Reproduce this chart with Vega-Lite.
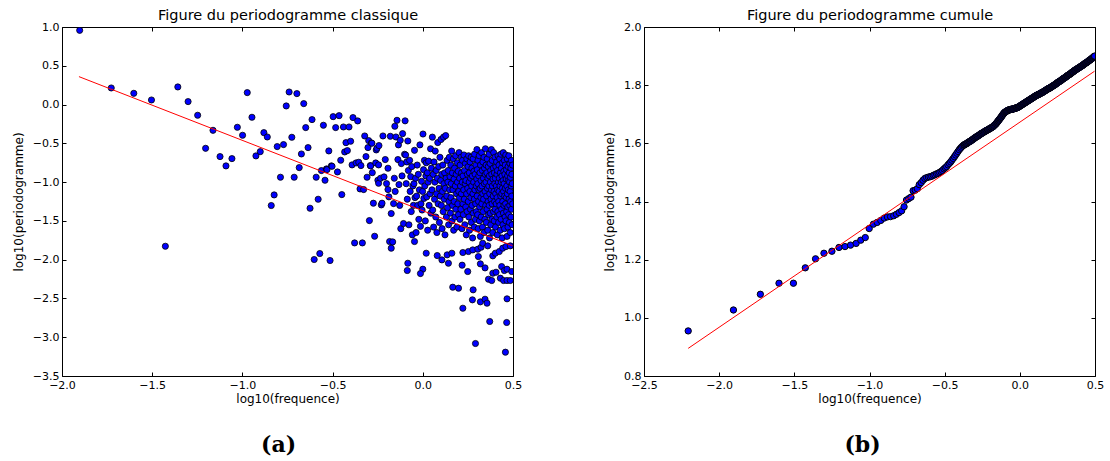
{
"$schema": "https://vega.github.io/schema/vega-lite/v6.json",
"padding": {"left": 11, "top": 7, "right": 5, "bottom": 0},
"spacing": 80,
"datasets": {
"a": [
{"x":-1.902,"y":0.957},{"x":-1.727,"y":0.214},{"x":-1.602,"y":0.145},{"x":-1.504,"y":0.059},{"x":-1.427,"y":-1.827},{"x":-1.358,"y":0.227},{"x":-1.301,"y":0.038},{"x":-1.248,"y":-0.138},{"x":-1.204,"y":-0.564},{"x":-1.163,"y":-0.332},
{"x":-1.124,"y":-0.671},{"x":-1.091,"y":-0.791},{"x":-1.058,"y":-0.697},{"x":-1.028,"y":-0.293},{"x":-0.999,"y":-0.396},{"x":-0.973,"y":0.154},{"x":-0.947,"y":-0.164},{"x":-0.925,"y":-0.662},{"x":-0.901,"y":-0.607},{"x":-0.881,"y":-0.362},
{"x":-0.862,"y":-0.418},{"x":-0.840,"y":-1.302},{"x":-0.824,"y":-1.165},{"x":-0.807,"y":-0.542},{"x":-0.789,"y":-0.937},{"x":-0.772,"y":-0.516},{"x":-0.757,"y":-0.018},{"x":-0.741,"y":0.162},{"x":-0.726,"y":-0.422},{"x":-0.713,"y":-0.937},
{"x":-0.698,"y":0.141},{"x":-0.685,"y":-0.813},{"x":-0.673,"y":-0.637},{"x":-0.660,"y":0.012},{"x":-0.649,"y":-0.297},{"x":-0.636,"y":-0.555},{"x":-0.625,"y":-1.337},{"x":-0.614,"y":-0.194},{"x":-0.602,"y":-1.998},{"x":-0.591,"y":-0.937},
{"x":-0.580,"y":-1.221},{"x":-0.571,"y":-1.921},{"x":-0.562,"y":-0.851},{"x":-0.551,"y":-0.267},{"x":-0.542,"y":-0.976},{"x":-0.534,"y":-0.830},{"x":-0.531,"y":-0.838},{"x":-0.521,"y":-0.598},{"x":-0.514,"y":-2.011},{"x":-0.507,"y":-0.791},
{"x":-0.503,"y":-0.796},{"x":-0.497,"y":-0.156},{"x":-0.483,"y":-0.297},{"x":-0.473,"y":-0.869},{"x":-0.464,"y":-0.143},{"x":-0.455,"y":-0.718},{"x":-0.449,"y":-1.161},{"x":-0.440,"y":-0.289},{"x":-0.433,"y":-0.611},{"x":-0.426,"y":-0.491},
{"x":-0.418,"y":-0.594},{"x":-0.409,"y":-0.289},{"x":-0.400,"y":-0.473},{"x":-0.392,"y":-0.778},{"x":-0.387,"y":-0.168},{"x":-0.378,"y":-1.784},{"x":-0.370,"y":-0.753},{"x":-0.361,"y":-0.211},{"x":-0.355,"y":-0.744},{"x":-0.348,"y":-1.088},
{"x":-0.343,"y":-0.787},{"x":-0.335,"y":-1.784},{"x":-0.328,"y":-1.096},{"x":-0.322,"y":-0.405},{"x":-0.315,"y":-0.671},{"x":-0.309,"y":-0.937},{"x":-0.304,"y":-0.555},{"x":-0.300,"y":-0.465},{"x":-0.296,"y":-1.496},{"x":-0.291,"y":-0.787},
{"x":-0.289,"y":-0.791},{"x":-0.285,"y":-0.495},{"x":-0.282,"y":-0.499},{"x":-0.280,"y":-0.878},{"x":-0.274,"y":-1.272},{"x":-0.267,"y":-1.698},{"x":-0.261,"y":-0.753},{"x":-0.258,"y":-0.585},{"x":-0.254,"y":-0.564},{"x":-0.249,"y":-0.976},
{"x":-0.245,"y":-0.778},{"x":-0.245,"y":-1.015},{"x":-0.243,"y":-0.529},{"x":-0.234,"y":-0.950},{"x":-0.230,"y":-1.294},{"x":-0.226,"y":-1.272},{"x":-0.221,"y":-0.405},{"x":-0.215,"y":-0.933},{"x":-0.208,"y":-0.709},{"x":-0.201,"y":-1.019},
{"x":-0.193,"y":-1.096},{"x":-0.193,"y":-0.821},{"x":-0.188,"y":-1.190},{"x":-0.184,"y":-1.766},{"x":-0.180,"y":-0.409},{"x":-0.175,"y":-1.405},{"x":-0.175,"y":-1.852},{"x":-0.167,"y":-1.771},{"x":-0.162,"y":-1.277},{"x":-0.158,"y":-0.950},
{"x":-0.155,"y":-0.280},{"x":-0.153,"y":-1.120},{"x":-0.149,"y":-0.418},{"x":-0.143,"y":-0.203},{"x":-0.138,"y":-0.709},{"x":-0.135,"y":-0.520},{"x":-0.132,"y":-1.032},{"x":-0.128,"y":-1.300},{"x":-0.125,"y":-0.460},{"x":-0.122,"y":-1.600},
{"x":-0.119,"y":-0.761},{"x":-0.115,"y":-0.920},{"x":-0.112,"y":-0.375},{"x":-0.107,"y":-1.534},{"x":-0.101,"y":-0.641},
{"x":-0.098,"y":-0.21},{"x":-0.095,"y":-0.65},{"x":-0.092,"y":-1.02},{"x":-0.089,"y":-0.74},{"x":-0.086,"y":-1.22},{"x":-0.083,"y":-0.47},{"x":-0.080,"y":-0.85},{"x":-0.077,"y":-1.55},{"x":-0.073,"y":-0.72},{"x":-0.070,"y":-1.12},
{"x":-0.067,"y":-0.93},{"x":-0.064,"y":-1.38},{"x":-0.061,"y":-0.80},{"x":-0.058,"y":-1.68},{"x":-0.055,"y":-1.05},{"x":-0.052,"y":-1.30},
{"x":-0.049,"y":-1.02},{"x":-0.046,"y":-0.59},{"x":-0.043,"y":-1.20},{"x":-0.040,"y":-0.95},{"x":-0.037,"y":-1.65},{"x":-0.034,"y":-1.18},{"x":-0.031,"y":-0.78},{"x":-0.028,"y":-1.30},{"x":-0.025,"y":-0.90},{"x":-0.022,"y":-1.48},
{"x":-0.019,"y":-1.10},{"x":-0.016,"y":-0.52},{"x":-0.013,"y":-1.57},{"x":-0.010,"y":-1.28},{"x":-0.007,"y":-0.99},{"x":-0.004,"y":-1.36},{"x":-0.001,"y":-1.12},
{"x":0.001,"y":-0.38},{"x":0.004,"y":-0.84},{"x":0.006,"y":-1.21},{"x":0.009,"y":-0.72},{"x":0.011,"y":-1.05},{"x":0.014,"y":-1.50},{"x":0.017,"y":-0.92},{"x":0.019,"y":-0.75},{"x":0.022,"y":-1.19},{"x":0.025,"y":-0.88},
{"x":0.027,"y":-1.62},{"x":0.030,"y":-1.00},{"x":0.032,"y":-0.73},{"x":0.035,"y":-1.30},{"x":0.038,"y":-0.95},{"x":0.040,"y":-1.15},{"x":0.043,"y":-0.57},{"x":0.045,"y":-1.40},{"x":0.048,"y":-0.82},
{"x":0.051,"y":-1.10},{"x":0.053,"y":-0.42},{"x":0.055,"y":-1.36},{"x":0.058,"y":-0.90},{"x":0.060,"y":-1.58},{"x":0.062,"y":-0.74},{"x":0.065,"y":-1.22},{"x":0.067,"y":-1.00},{"x":0.069,"y":-0.60},{"x":0.072,"y":-1.45},
{"x":0.074,"y":-0.85},{"x":0.076,"y":-1.15},{"x":0.078,"y":-1.65},{"x":0.081,"y":-0.95},{"x":0.083,"y":-0.49},{"x":0.085,"y":-1.28},{"x":0.088,"y":-0.80},{"x":0.090,"y":-1.08},{"x":0.092,"y":-1.52},{"x":0.095,"y":-0.68},
{"x":0.097,"y":-1.18},{"x":0.099,"y":-0.98},
{"x":0.101,"y":-0.45},{"x":0.103,"y":-1.30},{"x":0.105,"y":-0.90},{"x":0.107,"y":-1.60},{"x":0.109,"y":-1.12},{"x":0.111,"y":-0.78},{"x":0.113,"y":-1.38},{"x":0.115,"y":-0.42},{"x":0.117,"y":-1.02},{"x":0.119,"y":-1.22},
{"x":0.121,"y":-0.88},{"x":0.123,"y":-1.68},{"x":0.125,"y":-1.08},{"x":0.127,"y":-0.40},{"x":0.129,"y":-0.95},{"x":0.131,"y":-1.45},{"x":0.133,"y":-1.18},{"x":0.135,"y":-0.72},{"x":0.137,"y":-1.33},{"x":0.139,"y":-1.00},
{"x":0.141,"y":-0.85},{"x":0.143,"y":-1.55},{"x":0.145,"y":-1.25},{"x":0.147,"y":-0.68},{"x":0.149,"y":-1.10},
{"x":0.151,"y":-0.93},{"x":0.153,"y":-1.40},{"x":0.155,"y":-0.78},{"x":0.156,"y":-1.20},{"x":0.158,"y":-1.02},{"x":0.160,"y":-0.60},{"x":0.162,"y":-1.50},{"x":0.164,"y":-0.88},{"x":0.165,"y":-1.30},{"x":0.167,"y":-1.10},
{"x":0.169,"y":-0.70},{"x":0.171,"y":-1.62},{"x":0.173,"y":-0.96},{"x":0.174,"y":-1.25},{"x":0.176,"y":-0.82},{"x":0.178,"y":-1.45},{"x":0.180,"y":-1.05},{"x":0.182,"y":-0.66},{"x":0.183,"y":-1.35},{"x":0.185,"y":-0.90},
{"x":0.187,"y":-1.15},{"x":0.189,"y":-1.58},{"x":0.191,"y":-0.75},{"x":0.192,"y":-1.00},{"x":0.194,"y":-1.28},{"x":0.196,"y":-0.86},{"x":0.198,"y":-1.42},{"x":0.199,"y":-1.12},
{"x":0.201,"y":-0.62},{"x":0.203,"y":-1.20},{"x":0.204,"y":-0.95},{"x":0.206,"y":-1.48},{"x":0.207,"y":-0.78},{"x":0.209,"y":-1.05},{"x":0.211,"y":-1.35},{"x":0.212,"y":-0.68},{"x":0.214,"y":-1.15},{"x":0.215,"y":-0.88},
{"x":0.217,"y":-1.60},{"x":0.219,"y":-1.00},{"x":0.220,"y":-0.72},{"x":0.222,"y":-1.28},{"x":0.223,"y":-0.92},{"x":0.225,"y":-1.42},{"x":0.227,"y":-1.10},{"x":0.228,"y":-0.65},{"x":0.230,"y":-1.22},{"x":0.231,"y":-0.85},
{"x":0.233,"y":-1.55},{"x":0.235,"y":-1.02},{"x":0.236,"y":-0.76},{"x":0.238,"y":-1.32},{"x":0.239,"y":-0.98},{"x":0.241,"y":-1.68},{"x":0.243,"y":-1.15},{"x":0.244,"y":-0.70},{"x":0.246,"y":-1.38},{"x":0.247,"y":-0.90},
{"x":0.249,"y":-1.08},
{"x":0.251,"y":-0.80},{"x":0.252,"y":-1.25},{"x":0.254,"y":-0.66},{"x":0.255,"y":-1.45},{"x":0.257,"y":-1.00},{"x":0.258,"y":-0.88},{"x":0.259,"y":-1.62},{"x":0.261,"y":-1.12},{"x":0.262,"y":-0.74},{"x":0.264,"y":-1.35},
{"x":0.265,"y":-0.95},{"x":0.266,"y":-1.20},{"x":0.268,"y":-0.68},{"x":0.269,"y":-1.52},{"x":0.271,"y":-1.05},{"x":0.272,"y":-0.82},{"x":0.273,"y":-1.30},{"x":0.275,"y":-0.92},{"x":0.276,"y":-1.72},{"x":0.278,"y":-1.15},
{"x":0.279,"y":-0.70},{"x":0.280,"y":-1.40},{"x":0.282,"y":-1.00},{"x":0.283,"y":-0.86},{"x":0.285,"y":-1.58},{"x":0.286,"y":-1.22},{"x":0.287,"y":-0.64},{"x":0.289,"y":-1.10},{"x":0.290,"y":-0.90},{"x":0.292,"y":-1.48},
{"x":0.293,"y":-1.28},{"x":0.294,"y":-0.78},{"x":0.296,"y":-1.05},{"x":0.297,"y":-1.38},{"x":0.299,"y":-0.96},{"x":0.300,"y":-0.58},
{"x":0.301,"y":-1.18},{"x":0.302,"y":-0.84},{"x":0.304,"y":-1.42},{"x":0.305,"y":-1.02},{"x":0.306,"y":-0.72},{"x":0.307,"y":-1.60},{"x":0.309,"y":-1.25},{"x":0.310,"y":-0.92},{"x":0.311,"y":-1.10},{"x":0.313,"y":-0.66},
{"x":0.314,"y":-1.50},{"x":0.315,"y":-1.32},{"x":0.317,"y":-0.88},{"x":0.318,"y":-1.08},{"x":0.319,"y":-1.70},{"x":0.320,"y":-0.78},{"x":0.322,"y":-1.20},{"x":0.323,"y":-0.98},{"x":0.324,"y":-1.45},{"x":0.326,"y":-0.62},
{"x":0.327,"y":-1.28},{"x":0.328,"y":-1.05},{"x":0.330,"y":-0.85},{"x":0.331,"y":-1.58},{"x":0.332,"y":-1.15},{"x":0.333,"y":-0.74},{"x":0.335,"y":-1.38},{"x":0.336,"y":-0.95},{"x":0.337,"y":-1.22},{"x":0.339,"y":-0.68},
{"x":0.340,"y":-1.65},{"x":0.341,"y":-1.02},{"x":0.342,"y":-0.82},{"x":0.344,"y":-1.48},{"x":0.345,"y":-1.12},{"x":0.346,"y":-0.90},{"x":0.347,"y":-0.57},{"x":0.349,"y":-1.30},
{"x":0.350,"y":-1.00},{"x":0.351,"y":-0.78},{"x":0.352,"y":-1.52},{"x":0.354,"y":-1.18},{"x":0.355,"y":-0.88},{"x":0.356,"y":-1.35},{"x":0.357,"y":-0.70},{"x":0.358,"y":-1.08},{"x":0.360,"y":-1.62},{"x":0.361,"y":-0.95},
{"x":0.362,"y":-1.25},{"x":0.363,"y":-0.80},{"x":0.364,"y":-1.42},{"x":0.366,"y":-1.05},{"x":0.367,"y":-0.64},{"x":0.368,"y":-1.30},{"x":0.369,"y":-0.92},{"x":0.370,"y":-1.72},{"x":0.371,"y":-1.15},{"x":0.373,"y":-0.76},
{"x":0.374,"y":-1.40},{"x":0.375,"y":-1.00},{"x":0.376,"y":-0.85},{"x":0.377,"y":-1.55},{"x":0.378,"y":-1.22},{"x":0.380,"y":-0.58},{"x":0.381,"y":-1.10},{"x":0.382,"y":-0.90},{"x":0.383,"y":-1.48},{"x":0.384,"y":-1.28},
{"x":0.385,"y":-0.72},{"x":0.386,"y":-1.05},{"x":0.388,"y":-1.65},{"x":0.389,"y":-0.96},{"x":0.390,"y":-1.18},{"x":0.391,"y":-0.82},{"x":0.392,"y":-1.38},{"x":0.393,"y":-0.62},{"x":0.395,"y":-1.12},{"x":0.396,"y":-1.50},
{"x":0.397,"y":-0.88},{"x":0.398,"y":-1.25},{"x":0.399,"y":-1.02},
{"x":0.400,"y":-0.68},{"x":0.401,"y":-1.35},{"x":0.402,"y":-0.95},{"x":0.403,"y":-1.58},{"x":0.404,"y":-1.15},{"x":0.405,"y":-0.80},{"x":0.407,"y":-1.28},{"x":0.408,"y":-1.05},{"x":0.409,"y":-0.74},{"x":0.410,"y":-1.45},
{"x":0.411,"y":-0.90},{"x":0.412,"y":-1.20},{"x":0.413,"y":-1.68},{"x":0.414,"y":-0.85},{"x":0.415,"y":-1.10},{"x":0.416,"y":-1.38},{"x":0.417,"y":-0.66},{"x":0.419,"y":-1.00},{"x":0.420,"y":-1.52},{"x":0.421,"y":-1.25},
{"x":0.422,"y":-0.78},{"x":0.423,"y":-1.12},{"x":0.424,"y":-0.95},{"x":0.425,"y":-1.42},{"x":0.426,"y":-0.70},{"x":0.427,"y":-1.30},{"x":0.428,"y":-1.05},{"x":0.429,"y":-1.62},{"x":0.430,"y":-0.88},{"x":0.432,"y":-1.18},
{"x":0.433,"y":-0.64},{"x":0.434,"y":-1.48},{"x":0.435,"y":-1.00},{"x":0.436,"y":-0.82},{"x":0.437,"y":-1.35},{"x":0.438,"y":-1.15},{"x":0.439,"y":-0.92},{"x":0.440,"y":-1.72},{"x":0.441,"y":-1.08},{"x":0.442,"y":-0.75},
{"x":0.443,"y":-1.25},{"x":0.444,"y":-1.55},{"x":0.445,"y":-0.98},{"x":0.446,"y":-0.62},{"x":0.447,"y":-1.40},{"x":0.448,"y":-1.12},{"x":0.449,"y":-0.86},
{"x":0.450,"y":-1.30},{"x":0.451,"y":-1.02},{"x":0.452,"y":-0.72},{"x":0.453,"y":-1.60},{"x":0.454,"y":-1.18},{"x":0.455,"y":-0.90},{"x":0.456,"y":-1.45},{"x":0.457,"y":-0.78},{"x":0.458,"y":-1.08},{"x":0.459,"y":-1.28},
{"x":0.460,"y":-0.65},{"x":0.461,"y":-1.50},{"x":0.462,"y":-0.96},{"x":0.463,"y":-1.20},{"x":0.464,"y":-0.84},{"x":0.465,"y":-1.38},{"x":0.466,"y":-1.05},{"x":0.467,"y":-1.70},{"x":0.468,"y":-0.70},{"x":0.469,"y":-1.15},
{"x":0.470,"y":-0.92},{"x":0.471,"y":-1.32},{"x":0.472,"y":-1.58},{"x":0.473,"y":-0.80},{"x":0.474,"y":-1.10},{"x":0.475,"y":-0.98},{"x":0.476,"y":-1.42},{"x":0.477,"y":-0.66},{"x":0.478,"y":-1.22},{"x":0.479,"y":-0.88},
{"x":0.480,"y":-1.52},{"x":0.481,"y":-1.00},{"x":0.482,"y":-1.30},{"x":0.483,"y":-0.76},{"x":0.484,"y":-1.12},{"x":0.485,"y":-1.65},{"x":0.486,"y":-0.94},{"x":0.487,"y":-1.25},{"x":0.488,"y":-0.82},{"x":0.489,"y":-1.45},
{"x":0.490,"y":-1.05},{"x":0.491,"y":-0.72},{"x":0.492,"y":-1.35},{"x":0.493,"y":-1.18},{"x":0.494,"y":-0.90},{"x":0.495,"y":-1.55},{"x":0.496,"y":-1.02},{"x":0.497,"y":-0.78},{"x":0.498,"y":-1.28},
{"x":-0.046,"y":-1.766},{"x":0.019,"y":-1.917},{"x":0.080,"y":-1.947},{"x":0.106,"y":-2.003},{"x":0.135,"y":-1.938},{"x":0.161,"y":-1.917},{"x":0.142,"y":-2.046},{"x":-0.083,"y":-2.046},{"x":-0.086,"y":-2.140},{"x":0.000,"y":-2.123},
{"x":-0.013,"y":-2.179},{"x":0.222,"y":-1.908},{"x":0.253,"y":-1.895},{"x":0.277,"y":-1.874},{"x":0.305,"y":-1.865},{"x":0.323,"y":-1.840},{"x":0.332,"y":-1.788},{"x":0.360,"y":-1.822},{"x":0.388,"y":-1.951},{"x":0.402,"y":-1.917},
{"x":0.424,"y":-1.895},{"x":0.443,"y":-1.852},{"x":0.461,"y":-1.831},{"x":0.485,"y":-1.822},{"x":0.218,"y":-2.071},{"x":0.249,"y":-2.153},{"x":0.319,"y":-2.054},{"x":0.345,"y":-2.106},{"x":0.308,"y":-1.960},{"x":0.388,"y":-2.175},
{"x":0.406,"y":-2.162},{"x":0.437,"y":-2.089},{"x":0.452,"y":-2.140},{"x":0.467,"y":-2.123},{"x":0.364,"y":-2.252},{"x":0.382,"y":-2.269},{"x":0.430,"y":-2.239},{"x":0.448,"y":-2.269},{"x":0.467,"y":-2.269},{"x":0.485,"y":-2.269},
{"x":0.493,"y":-2.153},{"x":0.166,"y":-2.355},{"x":0.198,"y":-2.368},{"x":0.279,"y":-2.389},{"x":0.275,"y":-2.518},{"x":0.222,"y":-2.626},{"x":0.319,"y":-2.544},{"x":0.345,"y":-2.510},{"x":0.356,"y":-2.561},{"x":0.467,"y":-2.505},
{"x":0.371,"y":-2.797},{"x":0.465,"y":-2.810},{"x":0.292,"y":-3.081},{"x":0.458,"y":-3.193}
],
"aline": [{"x":-1.906,"y":0.36},{"x":0.497,"y":-1.82}],
"b": [
{"x":-2.206,"y":0.955},{"x":-1.905,"y":1.027},{"x":-1.726,"y":1.081},{"x":-1.602,"y":1.119},{"x":-1.506,"y":1.119},{"x":-1.427,"y":1.172},{"x":-1.359,"y":1.203},{"x":-1.303,"y":1.222},{"x":-1.250,"y":1.229},{"x":-1.203,"y":1.242},
{"x":-1.163,"y":1.245},{"x":-1.126,"y":1.250},{"x":-1.089,"y":1.256},{"x":-1.058,"y":1.267},{"x":-1.028,"y":1.276},{"x":-1.002,"y":1.307},{"x":-0.974,"y":1.322},{"x":-0.949,"y":1.328},{"x":-0.925,"y":1.335},{"x":-0.902,"y":1.343},
{"x":-0.881,"y":1.347},{"x":-0.860,"y":1.348},{"x":-0.839,"y":1.351},{"x":-0.821,"y":1.356},{"x":-0.803,"y":1.362},{"x":-0.786,"y":1.368},{"x":-0.770,"y":1.382},{"x":-0.754,"y":1.405},{"x":-0.739,"y":1.410},{"x":-0.724,"y":1.415},
{"x":-0.710,"y":1.437},{"x":-0.696,"y":1.439},{"x":-0.682,"y":1.444},{"x":-0.669,"y":1.458},{"x":-0.656,"y":1.465},{"x":-0.644,"y":1.473},{"x":-0.632,"y":1.479},{"x":-0.620,"y":1.482},{"x":-0.608,"y":1.484},{"x":-0.597,"y":1.485},
{"x":-0.586,"y":1.487},{"x":-0.575,"y":1.490},{"x":-0.565,"y":1.492},{"x":-0.554,"y":1.495},{"x":-0.544,"y":1.497},{"x":-0.534,"y":1.500},{"x":-0.524,"y":1.503},{"x":-0.515,"y":1.507},{"x":-0.505,"y":1.512},{"x":-0.496,"y":1.516},
{"x":-0.487,"y":1.520},{"x":-0.478,"y":1.526},{"x":-0.469,"y":1.531},{"x":-0.460,"y":1.536},{"x":-0.452,"y":1.542},{"x":-0.443,"y":1.548},{"x":-0.435,"y":1.554},{"x":-0.427,"y":1.560},{"x":-0.419,"y":1.566},{"x":-0.411,"y":1.572},
{"x":-0.403,"y":1.578},{"x":-0.395,"y":1.583},{"x":-0.388,"y":1.587},{"x":-0.380,"y":1.591},{"x":-0.373,"y":1.594},{"x":-0.367,"y":1.595},{"x":-0.359,"y":1.598},{"x":-0.351,"y":1.600},{"x":-0.343,"y":1.603},{"x":-0.335,"y":1.606},
{"x":-0.327,"y":1.608},{"x":-0.319,"y":1.611},{"x":-0.311,"y":1.614},{"x":-0.303,"y":1.617},{"x":-0.295,"y":1.620},{"x":-0.287,"y":1.623},{"x":-0.279,"y":1.625},{"x":-0.271,"y":1.628},{"x":-0.263,"y":1.631},{"x":-0.255,"y":1.634},
{"x":-0.247,"y":1.636},{"x":-0.239,"y":1.639},{"x":-0.231,"y":1.641},{"x":-0.223,"y":1.644},{"x":-0.215,"y":1.646},{"x":-0.207,"y":1.648},{"x":-0.199,"y":1.651},{"x":-0.191,"y":1.653},{"x":-0.183,"y":1.656},{"x":-0.175,"y":1.659},
{"x":-0.167,"y":1.663},{"x":-0.159,"y":1.667},{"x":-0.153,"y":1.671},{"x":-0.147,"y":1.675},{"x":-0.141,"y":1.679},{"x":-0.135,"y":1.683},{"x":-0.129,"y":1.687},{"x":-0.123,"y":1.691},{"x":-0.117,"y":1.696},{"x":-0.111,"y":1.700},
{"x":-0.105,"y":1.704},{"x":-0.099,"y":1.707},{"x":-0.093,"y":1.709},{"x":-0.087,"y":1.711},{"x":-0.081,"y":1.713},{"x":-0.075,"y":1.714},{"x":-0.069,"y":1.715},{"x":-0.063,"y":1.716},{"x":-0.057,"y":1.717},{"x":-0.051,"y":1.717},
{"x":-0.045,"y":1.718},{"x":-0.039,"y":1.719},{"x":-0.033,"y":1.720},{"x":-0.027,"y":1.721},{"x":-0.021,"y":1.722},{"x":-0.015,"y":1.723},{"x":-0.009,"y":1.725},{"x":-0.003,"y":1.727},{"x":0.003,"y":1.729},{"x":0.009,"y":1.731},
{"x":0.015,"y":1.733},{"x":0.021,"y":1.735},{"x":0.027,"y":1.737},{"x":0.033,"y":1.739},{"x":0.039,"y":1.741},{"x":0.045,"y":1.743},{"x":0.051,"y":1.745},{"x":0.057,"y":1.747},{"x":0.063,"y":1.749},{"x":0.069,"y":1.751},
{"x":0.075,"y":1.753},{"x":0.081,"y":1.755},{"x":0.087,"y":1.757},{"x":0.093,"y":1.759},{"x":0.099,"y":1.761},{"x":0.105,"y":1.763},{"x":0.111,"y":1.765},{"x":0.117,"y":1.766},{"x":0.123,"y":1.768},{"x":0.129,"y":1.769},
{"x":0.135,"y":1.771},{"x":0.141,"y":1.773},{"x":0.147,"y":1.774},{"x":0.153,"y":1.776},{"x":0.159,"y":1.778},{"x":0.165,"y":1.780},{"x":0.171,"y":1.782},{"x":0.177,"y":1.784},{"x":0.183,"y":1.786},{"x":0.189,"y":1.788},
{"x":0.195,"y":1.789},{"x":0.201,"y":1.791},{"x":0.207,"y":1.793},{"x":0.213,"y":1.795},{"x":0.219,"y":1.797},{"x":0.225,"y":1.799},{"x":0.231,"y":1.801},{"x":0.237,"y":1.803},{"x":0.243,"y":1.805},{"x":0.249,"y":1.808},
{"x":0.255,"y":1.810},{"x":0.261,"y":1.812},{"x":0.267,"y":1.814},{"x":0.273,"y":1.816},{"x":0.279,"y":1.818},{"x":0.285,"y":1.821},{"x":0.291,"y":1.823},{"x":0.297,"y":1.825},{"x":0.303,"y":1.827},{"x":0.309,"y":1.829},
{"x":0.315,"y":1.832},{"x":0.321,"y":1.834},{"x":0.327,"y":1.836},{"x":0.333,"y":1.838},{"x":0.339,"y":1.840},{"x":0.345,"y":1.843},{"x":0.351,"y":1.845},{"x":0.357,"y":1.847},{"x":0.363,"y":1.850},{"x":0.369,"y":1.852},
{"x":0.375,"y":1.854},{"x":0.381,"y":1.856},{"x":0.387,"y":1.858},{"x":0.393,"y":1.860},{"x":0.399,"y":1.862},{"x":0.405,"y":1.864},{"x":0.411,"y":1.866},{"x":0.417,"y":1.868},{"x":0.423,"y":1.870},{"x":0.429,"y":1.873},
{"x":0.435,"y":1.875},{"x":0.441,"y":1.877},{"x":0.447,"y":1.879},{"x":0.453,"y":1.881},{"x":0.459,"y":1.884},{"x":0.465,"y":1.886},{"x":0.471,"y":1.888},{"x":0.477,"y":1.891},{"x":0.483,"y":1.893},{"x":0.489,"y":1.896},
{"x":0.495,"y":1.899},
{"x":-0.370,"y":1.595},{"x":-0.363,"y":1.597},{"x":-0.355,"y":1.599},{"x":-0.347,"y":1.602},{"x":-0.339,"y":1.605},{"x":-0.331,"y":1.607},{"x":-0.323,"y":1.610},{"x":-0.315,"y":1.613},{"x":-0.307,"y":1.616},{"x":-0.299,"y":1.619},
{"x":-0.291,"y":1.622},{"x":-0.283,"y":1.624},{"x":-0.275,"y":1.627},{"x":-0.267,"y":1.630},{"x":-0.259,"y":1.633},{"x":-0.251,"y":1.635},{"x":-0.243,"y":1.638},{"x":-0.235,"y":1.640},{"x":-0.227,"y":1.643},{"x":-0.219,"y":1.645},
{"x":-0.211,"y":1.647},{"x":-0.203,"y":1.650},{"x":-0.195,"y":1.652},{"x":-0.187,"y":1.655},{"x":-0.179,"y":1.657},{"x":-0.171,"y":1.661},{"x":-0.163,"y":1.665},{"x":-0.156,"y":1.669},{"x":-0.150,"y":1.673},{"x":-0.144,"y":1.677},
{"x":-0.138,"y":1.681},{"x":-0.132,"y":1.685},{"x":-0.126,"y":1.689},{"x":-0.120,"y":1.694},{"x":-0.114,"y":1.698},{"x":-0.108,"y":1.702},{"x":-0.102,"y":1.706},{"x":-0.096,"y":1.708},{"x":-0.090,"y":1.710},{"x":-0.084,"y":1.712},
{"x":-0.078,"y":1.714},{"x":-0.072,"y":1.715},{"x":-0.066,"y":1.716},{"x":-0.060,"y":1.717},{"x":-0.054,"y":1.717},{"x":-0.048,"y":1.718},{"x":-0.042,"y":1.719},{"x":-0.036,"y":1.720},{"x":-0.030,"y":1.721},{"x":-0.024,"y":1.722},
{"x":-0.018,"y":1.723},{"x":-0.012,"y":1.724},{"x":-0.006,"y":1.726},{"x":0.000,"y":1.728},{"x":0.006,"y":1.730},{"x":0.012,"y":1.732},{"x":0.018,"y":1.734},{"x":0.024,"y":1.736},{"x":0.030,"y":1.738},{"x":0.036,"y":1.740},
{"x":0.042,"y":1.742},{"x":0.048,"y":1.744},{"x":0.054,"y":1.746},{"x":0.060,"y":1.748},{"x":0.066,"y":1.750},{"x":0.072,"y":1.752},{"x":0.078,"y":1.754},{"x":0.084,"y":1.756},{"x":0.090,"y":1.758},{"x":0.096,"y":1.760},
{"x":0.102,"y":1.762},{"x":0.108,"y":1.764},{"x":0.114,"y":1.766},{"x":0.120,"y":1.767},{"x":0.126,"y":1.769},{"x":0.132,"y":1.770},{"x":0.138,"y":1.772},{"x":0.144,"y":1.774},{"x":0.150,"y":1.775},{"x":0.156,"y":1.777},
{"x":0.162,"y":1.779},{"x":0.168,"y":1.781},{"x":0.174,"y":1.783},{"x":0.180,"y":1.785},{"x":0.186,"y":1.787},{"x":0.192,"y":1.789},{"x":0.198,"y":1.790},{"x":0.204,"y":1.792},{"x":0.210,"y":1.794},{"x":0.216,"y":1.796},
{"x":0.222,"y":1.798},{"x":0.228,"y":1.800},{"x":0.234,"y":1.802},{"x":0.240,"y":1.804},{"x":0.246,"y":1.807},{"x":0.252,"y":1.809},{"x":0.258,"y":1.811},{"x":0.264,"y":1.813},{"x":0.270,"y":1.815},{"x":0.276,"y":1.817},
{"x":0.282,"y":1.820},{"x":0.288,"y":1.822},{"x":0.294,"y":1.824},{"x":0.300,"y":1.826},{"x":0.306,"y":1.828},{"x":0.312,"y":1.831},{"x":0.318,"y":1.833},{"x":0.324,"y":1.835},{"x":0.330,"y":1.837},{"x":0.336,"y":1.839},
{"x":0.342,"y":1.842},{"x":0.348,"y":1.844},{"x":0.354,"y":1.846},{"x":0.360,"y":1.849},{"x":0.366,"y":1.851},{"x":0.372,"y":1.853},{"x":0.378,"y":1.855},{"x":0.384,"y":1.857},{"x":0.390,"y":1.859},{"x":0.396,"y":1.861},
{"x":0.402,"y":1.863},{"x":0.408,"y":1.865},{"x":0.414,"y":1.867},{"x":0.420,"y":1.869},{"x":0.426,"y":1.872},{"x":0.432,"y":1.874},{"x":0.438,"y":1.876},{"x":0.444,"y":1.878},{"x":0.450,"y":1.880},{"x":0.456,"y":1.883},
{"x":0.462,"y":1.885},{"x":0.468,"y":1.887},{"x":0.474,"y":1.890},{"x":0.480,"y":1.892},{"x":0.486,"y":1.895},{"x":0.492,"y":1.898},{"x":0.498,"y":1.900}
],
"bline": [{"x":-2.206,"y":0.895},{"x":0.497,"y":1.848}]
},
"hconcat": [
{
"width": 451, "height": 349,
"title": {"text": "(a)", "orient": "bottom", "frame": "group", "dx": -9, "offset": 31, "font": "DejaVu Serif", "fontSize": 22, "fontWeight": "bold", "color": "black"},
"resolve": {"axis": {"x": "independent", "y": "independent"}},
"layer": [
{
"data": {"name": "a"},
"mark": {"type": "point", "shape": "circle", "filled": true, "fill": "#0000ff", "stroke": "black", "strokeWidth": 0.8, "size": 38, "opacity": 1, "clip": true},
"encoding": {
"x": {"field": "x", "type": "quantitative", "scale": {"domain": [-2, 0.5], "nice": false, "zero": false},
 "axis": {"orient": "bottom", "values": [-2, -1.5, -1, -0.5, 0, 0.5], "format": ".1f", "title": "log10(frequence)", "titlePadding": 3}},
"y": {"field": "y", "type": "quantitative", "scale": {"domain": [-3.5, 1], "nice": false, "zero": false},
 "axis": {"orient": "left", "values": [-3.5, -3, -2.5, -2, -1.5, -1, -0.5, 0, 0.5, 1], "format": ".1f", "title": "log10(periodogramme)", "titlePadding": 7}}
}
},
{
"data": {"name": "aline"},
"mark": {"type": "line", "color": "#ff0000", "strokeWidth": 1, "clip": true},
"encoding": {
"x": {"field": "x", "type": "quantitative", "scale": {"domain": [-2, 0.5], "nice": false, "zero": false},
 "axis": {"orient": "top", "values": [-2, -1.5, -1, -0.5, 0, 0.5], "labels": false, "title": "Figure du periodogramme classique", "titleFontSize": 14.5, "titlePadding": 4}},
"y": {"field": "y", "type": "quantitative", "scale": {"domain": [-3.5, 1], "nice": false, "zero": false},
 "axis": {"orient": "right", "values": [-3.5, -3, -2.5, -2, -1.5, -1, -0.5, 0, 0.5, 1], "labels": false, "title": null}}
}
}
]
},
{
"width": 451, "height": 349,
"title": {"text": "(b)", "orient": "bottom", "frame": "group", "dx": -7, "offset": 31, "font": "DejaVu Serif", "fontSize": 22, "fontWeight": "bold", "color": "black"},
"resolve": {"axis": {"x": "independent", "y": "independent"}},
"layer": [
{
"data": {"name": "b"},
"mark": {"type": "point", "shape": "circle", "filled": true, "fill": "#0000ff", "stroke": "black", "strokeWidth": 1, "size": 40, "opacity": 1, "clip": true},
"encoding": {
"x": {"field": "x", "type": "quantitative", "scale": {"domain": [-2.5, 0.5], "nice": false, "zero": false},
 "axis": {"orient": "bottom", "values": [-2.5, -2, -1.5, -1, -0.5, 0, 0.5], "format": ".1f", "title": "log10(frequence)", "titlePadding": 3}},
"y": {"field": "y", "type": "quantitative", "scale": {"domain": [0.8, 2], "nice": false, "zero": false},
 "axis": {"orient": "left", "values": [0.8, 1, 1.2, 1.4, 1.6, 1.8, 2], "format": ".1f", "title": "log10(periodogramme)", "titlePadding": 7}},
"order": {"field": "x", "type": "quantitative"}
}
},
{
"data": {"name": "bline"},
"mark": {"type": "line", "color": "#ff0000", "strokeWidth": 1, "clip": true},
"encoding": {
"x": {"field": "x", "type": "quantitative", "scale": {"domain": [-2.5, 0.5], "nice": false, "zero": false},
 "axis": {"orient": "top", "values": [-2.5, -2, -1.5, -1, -0.5, 0, 0.5], "labels": false, "title": "Figure du periodogramme cumule", "titleFontSize": 14.5, "titlePadding": 4}},
"y": {"field": "y", "type": "quantitative", "scale": {"domain": [0.8, 2], "nice": false, "zero": false},
 "axis": {"orient": "right", "values": [0.8, 1, 1.2, 1.4, 1.6, 1.8, 2], "labels": false, "title": null}}
}
}
]
}
],
"config": {
"font": "DejaVu Sans",
"background": "white",
"view": {"stroke": "black", "strokeWidth": 1},
"axis": {"grid": false, "domain": false, "ticks": true, "tickColor": "black", "tickSize": -4, "tickWidth": 1, "labelColor": "black", "labelFontSize": 11, "labelPadding": 7, "labelFlush": false, "labelOverlap": false, "titleColor": "black", "titleFontSize": 12, "titleFontWeight": "normal"}
}
}
